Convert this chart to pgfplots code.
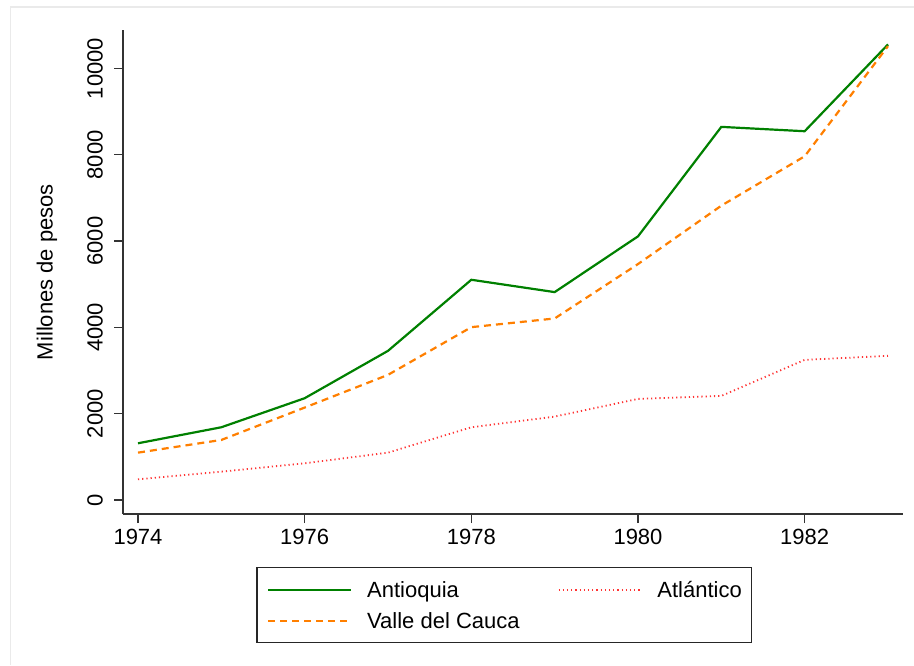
\documentclass[border=0pt]{standalone}
\usepackage{fontspec}
\setmainfont{Liberation Sans}
\usepackage{pgfplots}
\pgfplotsset{compat=1.18}
\definecolor{stgreen}{RGB}{0,128,0}
\definecolor{storange}{RGB}{255,127,0}
\definecolor{stred}{RGB}{255,0,0}
\definecolor{frame}{RGB}{234,234,234}
\begin{document}
\begin{tikzpicture}[x=1pt,y=1pt]
\useasboundingbox (0,0) rectangle (914,665);
\draw[frame, line width=1.5pt] (10.5,0) -- (10.5,658) -- (914,658);
\begin{axis}[
  at={(123pt,151pt)}, anchor=south west,
  scale only axis, width=780pt, height=484pt,
  xmin=1973.82, xmax=1983.18,
  ymin=-324, ymax=10892,
  axis lines*=left,
  axis line style={line width=1.5pt, color=black!80},
  xtick={1974,1976,1978,1980,1982},
  ytick={0,2000,4000,6000,8000,10000},
  scaled y ticks=false, scaled x ticks=false,
  tick align=outside,
  major tick length=9pt,
  tick style={line width=1.3pt, color=black!80},
  /pgf/number format/assume math mode=true,
  /pgf/number format/set thousands separator={},
  tick label style={font=\fontsize{22}{26}\selectfont, inner sep=0pt},
  xticklabel shift=6pt,
  yticklabel style={rotate=90, anchor=south},
  yticklabel shift=11pt,
  ylabel={Millones de pesos},
  ylabel style={at={(axis description cs:-0.0974,0.5)}, anchor=center, rotate=0, font=\fontsize{22}{26}\selectfont, inner sep=0pt},
  legend columns=2,
  legend image code/.code={\draw[#1] (0pt,0pt) -- (83pt,0pt);},
  legend style={
    at={(axis description cs:0.489,-0.1095)}, anchor=north,
    draw=black!85, line width=1.3pt,
    font=\fontsize{22}{26}\selectfont,
    inner xsep=10pt, inner ysep=14pt,
    nodes={inner sep=0pt, text height=16pt, text depth=0pt},
    row sep=15pt,
    /tikz/column 1/.style={column sep=15pt},
    /tikz/column 2/.style={column sep=38pt},
    /tikz/column 3/.style={column sep=15pt},
  },
  legend cell align=left,
]
\addplot[stgreen, line width=2.2pt] coordinates {
(1974,1315) (1975,1686) (1976,2359) (1977,3457) (1978,5104)
(1979,4818) (1980,6110) (1981,8647) (1982,8546) (1983,10557)};
\addlegendentry{Antioquia}
\addplot[stred!80, line width=1.8pt, dash pattern=on 1.2pt off 3pt] coordinates {
(1974,480) (1975,657) (1976,851) (1977,1098) (1978,1686)
(1979,1933) (1980,2343) (1981,2413) (1982,3248) (1983,3341)};
\addlegendentry{Atlántico}
\addplot[storange, line width=2.2pt, dash pattern=on 7pt off 5pt] coordinates {
(1974,1098) (1975,1392) (1976,2142) (1977,2900) (1978,4006)
(1979,4207) (1980,5468) (1981,6821) (1982,7966) (1983,10518)};
\addlegendentry{Valle del Cauca}
\end{axis}
\end{tikzpicture}
\end{document}
